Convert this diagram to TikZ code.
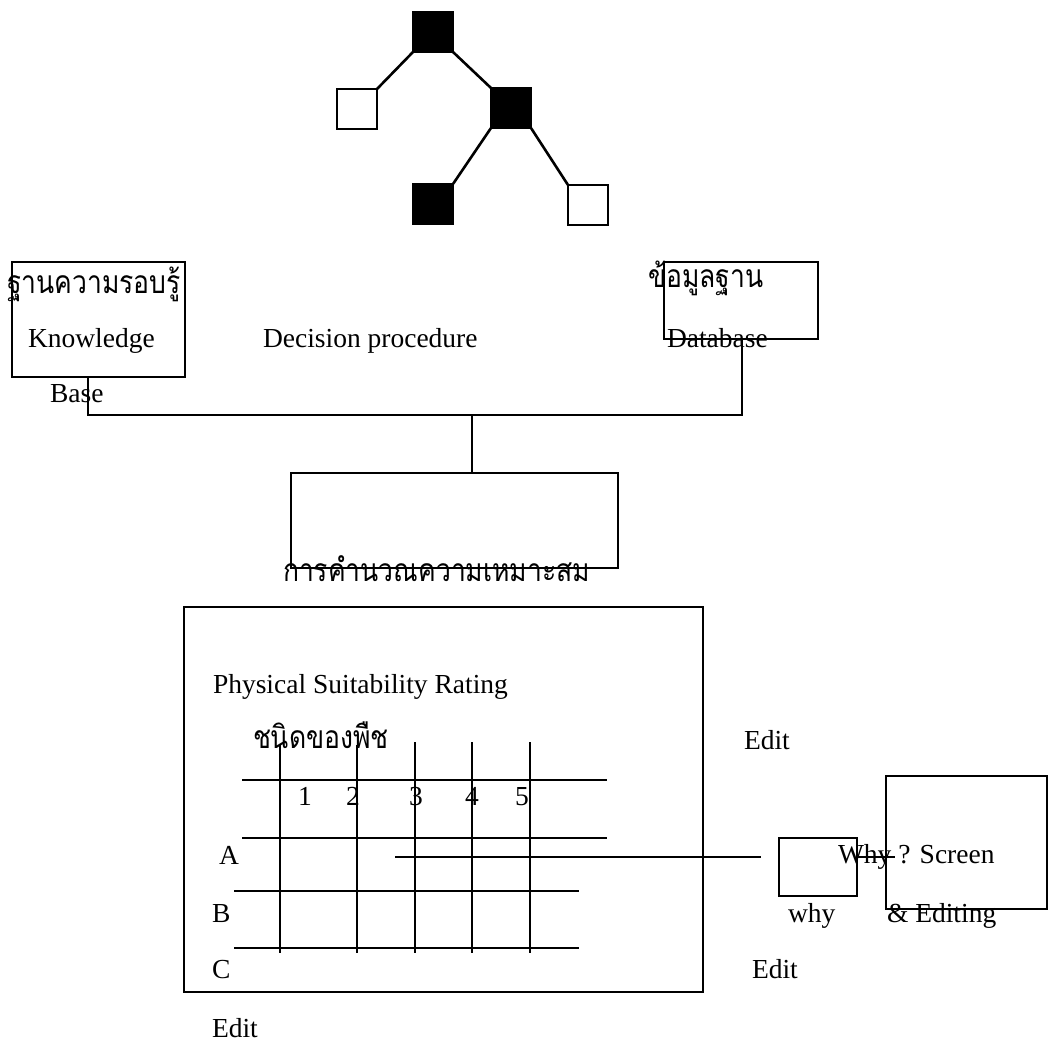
\documentclass[tikz,border=0pt]{standalone}
\usepackage{fontspec}
\setmainfont{Liberation Serif}
\newfontfamily\thaifont[Script=Thai]{Loma}
\newcommand{\thaitext}[1]{\scalebox{1}[1.2]{\thaifont #1}}
\begin{document}
\begin{tikzpicture}[x=1pt,y=-1pt,
  box/.style={draw,line width=2.6pt,inner sep=0pt,outer sep=0pt,anchor=north west},
  sq/.style={draw,line width=2.6pt,inner sep=0pt,outer sep=0pt,minimum size=40pt,anchor=north west},
  filled/.style={sq,fill=black},
  link/.style={line width=2.6pt},
  thin/.style={line width=1.6pt},
  grid/.style={line width=2.8pt},
  lbl/.style={inner sep=0pt,outer sep=0pt,anchor=base west,font=\fontsize{27.5}{30}\selectfont},
  thai/.style={lbl,font=\fontsize{26.5}{30}\selectfont}]
\useasboundingbox (0,0) rectangle (1049,1041);

% decision tree
\node[filled] (t1) at (413,12) {};
\node[sq]     (l1) at (337,89) {};
\node[filled] (m1) at (491,88) {};
\node[filled] (b1) at (413,184) {};
\node[sq]     (r1) at (568,185) {};
\draw[link] (t1.south west) -- (l1.north east);
\draw[link] (t1.south east) -- (m1.north west);
\draw[link] (m1.south west) -- (b1.north east);
\draw[link] (m1.south east) -- (r1.north west);

% knowledge base and database
\node[box,minimum width=173pt,minimum height=115pt] (kb) at (12,262) {};
\node[box,minimum width=154pt,minimum height=77pt] (db) at (664,262) {};
\node[thai] (kbth) at (7,293) {\thaitext{ฐานความรอบรู้}};
\node[lbl] (kbt) at (28,347) {Knowledge};
\node[lbl] (kbb) at (50,402) {Base};
\node[lbl] (dp) at (263,347) {Decision procedure};
\node[thai] (dbth) at (648,287) {\thaitext{ข้อมูลฐาน}};
\node[lbl] (dbt) at (667,347) {Database};

% bus joining both stores to the rating computation
\draw[link] ([xshift=76pt]kb.south west) -- ++(0,38) -| ([xshift=78pt]db.south west);
\node[box,minimum width=327pt,minimum height=95pt] (calc) at (291,473) {};
\draw[thin] ([xshift=181pt]calc.north west) -- ++(0,-58);
\node[thai] (calct) at (283,581) {\thaitext{การคำนวณความเหมาะสม}};

% rating screen
\node[box,minimum width=519pt,minimum height=385pt] (psr) at (184,607) {};
\node[lbl] (psrt) at (213,693) {Physical Suitability Rating};
\node[thai] (crop) at (253,748) {\thaitext{ชนิดของพืช}};

% table rules
\draw[grid] (280,745) -- (280,953);
\draw[grid] (357,745) -- (357,953);
\draw[grid] (415,742) -- (415,953);
\draw[grid] (472,742) -- (472,953);
\draw[grid] (530,742) -- (530,953);
\draw[grid] (242,780) -- (607,780);
\draw[grid] (242,838) -- (607,838);
\draw[grid] (234,891) -- (579,891);
\draw[grid] (234,948) -- (579,948);

\node[lbl] (c1) at (298,805) {1};
\node[lbl] (c2) at (346,805) {2};
\node[lbl] (c3) at (409,805) {3};
\node[lbl] (c4) at (465,805) {4};
\node[lbl] (c5) at (515,805) {5};
\node[lbl] (ra) at (219,864) {A};
\node[lbl] (rb) at (212,922) {B};
\node[lbl] (rc) at (212,978) {C};
\node[lbl] (ed1) at (212,1037) {Edit};
\node[lbl] (ed2) at (744,749) {Edit};
\node[lbl] (ed3) at (752,978) {Edit};

% why / editing screens
\node[box,minimum width=78pt,minimum height=58pt] (why) at (779,838) {};
\node[box,minimum width=161pt,minimum height=133pt] (scr) at (886,776) {};
\coordinate (cellA) at (395,857);
\draw[thin] (cellA) -- ++(366,0);
\draw[thin] ([yshift=10pt]why.east) -- ++(38,0);
\node[lbl] (whyt) at (838,863) {Why ? Screen};
\node[lbl] (whyl) at (788,922) {why};
\node[lbl] (edt) at (887,922) {\& Editing};
\end{tikzpicture}
\end{document}
